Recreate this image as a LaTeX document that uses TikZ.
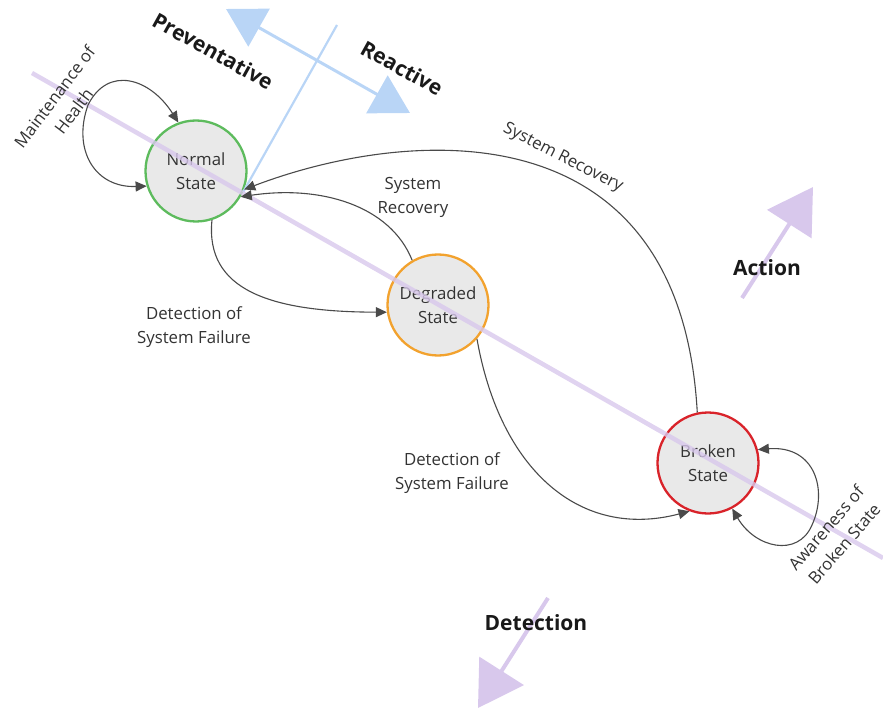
\documentclass[tikz,border=0pt]{standalone}
\usepackage{fontspec}
\setmainfont{Open Sans}
\usetikzlibrary{arrows.meta}
\definecolor{axisblue}{HTML}{B9D5F6}
\definecolor{axispurple}{HTML}{D8C8EC}
\definecolor{stgreen}{HTML}{5DBB5D}
\definecolor{storange}{HTML}{F2A22E}
\definecolor{stred}{HTML}{D9232A}
\definecolor{stfill}{HTML}{E9E9E9}
\definecolor{conn}{HTML}{4A4A4A}
\definecolor{txt}{HTML}{333333}
\tikzset{
  state/.style={circle, minimum size=101pt, inner sep=0pt, line width=2.3pt, fill=stfill,
    align=center, text=txt, font=\fontsize{16.8}{24}\selectfont},
  lbl/.style={align=center, text=txt, font=\fontsize{16.8}{24}\selectfont, inner sep=0pt},
  biglbl/.style={text=black!90, font=\bfseries\fontsize{21}{24}\selectfont, inner sep=0pt},
  connector/.style={draw=conn, line width=1.1pt, -{Triangle[length=11pt,width=10pt]}},
  twoway/.style={draw=conn, line width=1.1pt, {Triangle[length=11pt,width=10pt]}-{Triangle[length=11pt,width=10pt]}},
  blueaxis/.style={draw=axisblue, line width=3pt},
  purpleaxis/.style={draw=axispurple, line width=4.5pt}
}
\begin{document}
\begin{tikzpicture}[x=1pt,y=-1pt]
\useasboundingbox (0,0) rectangle (883,711);

% blue axis (preventative / reactive)
\coordinate (bTipA) at (226,9);
\coordinate (bTipB) at (410,113);
\coordinate (bTop) at (337,25);
\draw[blueaxis, {Triangle[length=38pt,width=43pt]}-{Triangle[length=38pt,width=43pt]}] (bTipA) -- (bTipB);

% states
\node[state, draw=stgreen] (normal) at (196,171) {Normal\\State};
\node[state, draw=storange] (degraded) at (438,305) {Degraded\\State};
\node[state, draw=stred] (broken) at (708,463) {Broken\\State};

\draw[draw=axisblue, line width=2.2pt] (bTop) -- (normal.-24);

% purple axis (detection / action)
\coordinate (pA) at (32,73);
\coordinate (pB) at (883,558);
\draw[purpleaxis, opacity=0.8] (pA) -- (pB);
\coordinate (actStart) at (742,298);
\coordinate (actTip) at (813,187);
\coordinate (detStart) at (548,598);
\coordinate (detTip) at (478,708);
\draw[draw=axispurple, line width=4pt, -{Triangle[length=44pt,width=52pt]}] (actStart) -- (actTip);
\draw[draw=axispurple, line width=4pt, -{Triangle[length=44pt,width=52pt]}] (detStart) -- (detTip);

% connectors
\draw[twoway] (normal.110) .. controls (150,78) and (108,65) .. (88,105)
   .. controls (72,150) and (95,188) .. (normal.197);
\draw[connector] (normal.-72) .. controls (205,290) and (270,312) .. (degraded.188);
\draw[connector] (degraded.120) .. controls (390,205) and (320,185) .. (normal.-30);
\draw[connector] (broken.102) .. controls (680,100) and (400,130) .. (normal.-21);
\draw[connector] (degraded.-41) .. controls (500,470) and (580,540) .. (broken.-111);
\draw[twoway] (broken.15) .. controls (815,445) and (828,490) .. (812,525)
   .. controls (798,558) and (755,548) .. (broken.-62);

% labels
\node[lbl, rotate=53] (lMaint) at (64,104) {Maintenance of\\Health};
\node[lbl] (lRec1) at (413,197) {System\\Recovery};
\node[lbl, rotate=-27] (lRec2) at (563,158) {System Recovery};
\node[lbl] (lDet1) at (194,327) {Detection of\\System Failure};
\node[lbl] (lDet2) at (452,473) {Detection of\\System Failure};
\node[lbl, rotate=49] (lAware) at (835,536) {Awareness of\\Broken State};

\node[biglbl, rotate=-29] (lPrev) at (213,51) {Preventative};
\node[biglbl, rotate=-29] (lReact) at (402,68) {Reactive};
\node[biglbl] (lAction) at (767,268) {Action};
\node[biglbl] (lDetect) at (536,623) {Detection};
\end{tikzpicture}
\end{document}
